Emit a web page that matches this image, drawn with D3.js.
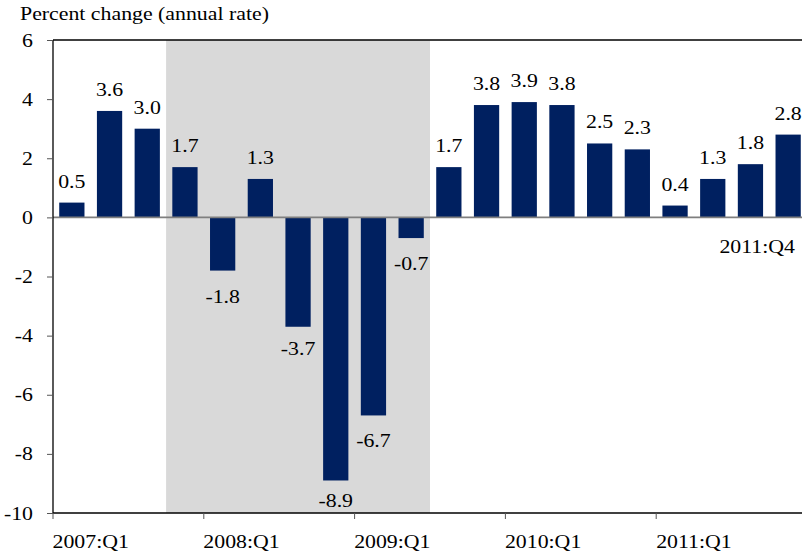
<!DOCTYPE html>
<html>
<head>
<meta charset="utf-8">
<script src="https://cdn.jsdelivr.net/npm/d3@7"></script>
<style>
  body { margin: 0; background: #fff; }
  text { font-family: "Liberation Serif", "Times New Roman", serif; fill: #000; font-size: 18.5px; }
</style>
</head>
<body>
<svg id="thesvg" width="802" height="553"></svg>
<script>
'use strict';

// quarterly real GDP growth, percent change at annual rate
let quarters = ["2007:Q1", "2007:Q2", "2007:Q3", "2007:Q4",
                "2008:Q1", "2008:Q2", "2008:Q3", "2008:Q4",
                "2009:Q1", "2009:Q2", "2009:Q3", "2009:Q4",
                "2010:Q1", "2010:Q2", "2010:Q3", "2010:Q4",
                "2011:Q1", "2011:Q2", "2011:Q3", "2011:Q4"];
let growth = [0.5, 3.6, 3.0, 1.7, -1.8, 1.3, -3.7, -8.9, -6.7, -0.7,
              1.7, 3.8, 3.9, 3.8, 2.5, 2.3, 0.4, 1.3, 1.8, 2.8];
let recession = ["2007:Q4", "2009:Q2"];   // shaded span
let xTickLabels = ["2007:Q1", "2008:Q1", "2009:Q1", "2010:Q1", "2011:Q1"];
let yTicks = [6, 4, 2, 0, -2, -4, -6, -8, -10];

var svg = d3.select("#thesvg"),
    plotLeft = 53, plotTop = 40, plotBottom = 513,
    step = 37.7,
    wide = 1.18,   // the original type is set a little wide
    navy = "#002060";

var x = d3.scaleBand()
    .domain(quarters)
    .range([plotLeft, plotLeft + step * quarters.length])
    .paddingInner(0.33)
    .paddingOuter(0.165);

var y = d3.scaleLinear().domain([-10, 6]).range([plotBottom, plotTop]);

// labels that sit a bit closer to the bar than the rest
let nudge = {"2008:Q3": -4, "2008:Q4": -5};

// move x/y into a transform so the glyphs can be stretched sideways
function stretch(sel) {
  sel.each(function() {
    let t = d3.select(this),
        tx = +t.attr("x") || 0,
        ty = +t.attr("y") || 0;
    t.attr("x", null).attr("y", null)
     .attr("transform", "translate(" + tx + "," + ty + ") scale(" + wide + ",1)");
  });
}

// recession shading
let x0 = x(recession[0]) - x.step() * x.paddingInner() / 2,
    x1 = x(recession[1]) + x.bandwidth() + x.step() * x.paddingInner() / 2;
svg.append("rect")
    .attr("x", x0).attr("y", y(6))
    .attr("width", x1 - x0).attr("height", y(-10) - y(6))
    .attr("fill", "#d9d9d9");

// frame: top line
svg.append("line")
    .attr("x1", plotLeft).attr("x2", 802).attr("y1", y(6)).attr("y2", y(6))
    .attr("stroke", "#000").attr("stroke-width", 1.3);

svg.selectAll(".bar")
    .data(growth)
  .enter().append("rect")
    .attr("class", "bar")
    .attr("x", function(d, i) { return x(quarters[i]); })
    .attr("width", x.bandwidth())
    .attr("y", function(d) { return y(Math.max(0, d)); })
    .attr("height", function(d) { return Math.abs(y(d) - y(0)); })
    .attr("fill", navy);

svg.append("line")
    .attr("x1", plotLeft).attr("x2", 802).attr("y1", y(0)).attr("y2", y(0))
    .attr("stroke", "#7f7f7f").attr("stroke-width", 1.6);

// value labels
svg.selectAll(".val")
    .data(growth)
  .enter().append("text")
    .attr("class", "val")
    .attr("x", function(d, i) { return x(quarters[i]) + x.bandwidth() / 2; })
    .attr("y", function(d, i) {
      if (d >= 0) return y(d) - 15;
      return y(d) + 32 + (nudge[quarters[i]] || 0);
    })
    .attr("text-anchor", "middle")
    .text(function(d) { return d.toFixed(1); })
    .call(stretch);

// y axis
var ya = svg.append("g")
    .attr("transform", "translate(" + plotLeft + ",0)")
    .call(d3.axisLeft(y).tickValues(yTicks).tickSize(6).tickPadding(14)
          .tickFormat(function(d) { return String(d); }))
    .attr("font-family", null).attr("font-size", null);
ya.select(".domain").attr("d", "M0," + plotTop + "V" + plotBottom)
    .attr("stroke", "#000").attr("stroke-width", 1.3);
ya.selectAll(".tick line").attr("stroke", "#555");
ya.selectAll(".tick text").attr("dy", null).attr("y", 6).call(stretch);

// x axis
var xTick = d3.scaleOrdinal().domain(xTickLabels)
    .range(xTickLabels.map(function(q) { return x(q) - x.step() * x.paddingInner() / 2; }));
var xa = svg.append("g").attr("class", "xaxis");
xa.append("line")
    .attr("x1", plotLeft).attr("x2", 802).attr("y1", plotBottom).attr("y2", plotBottom)
    .attr("stroke", "#000").attr("stroke-width", 1.3);
xa.selectAll(".xt")
    .data(xTickLabels)
  .enter().append("line")
    .attr("x1", function(d) { return xTick(d); })
    .attr("x2", function(d) { return xTick(d); })
    .attr("y1", plotBottom).attr("y2", plotBottom + 6)
    .attr("stroke", "#555");
xa.selectAll(".xl")
    .data(xTickLabels)
  .enter().append("text")
    .attr("x", function(d) { return xTick(d) + x.step(); })
    .attr("y", 548)
    .attr("text-anchor", "middle")
    .text(function(d) { return d; })
    .call(stretch);

// last quarter marker
svg.append("text")
    .attr("x", 795).attr("y", 253)
    .attr("text-anchor", "end")
    .text(quarters[quarters.length - 1])
    .call(stretch);

// unit title
svg.append("text")
    .attr("x", 20).attr("y", 20)
    .text("Percent change (annual rate)")
    .call(stretch);
</script>
</body>
</html>
